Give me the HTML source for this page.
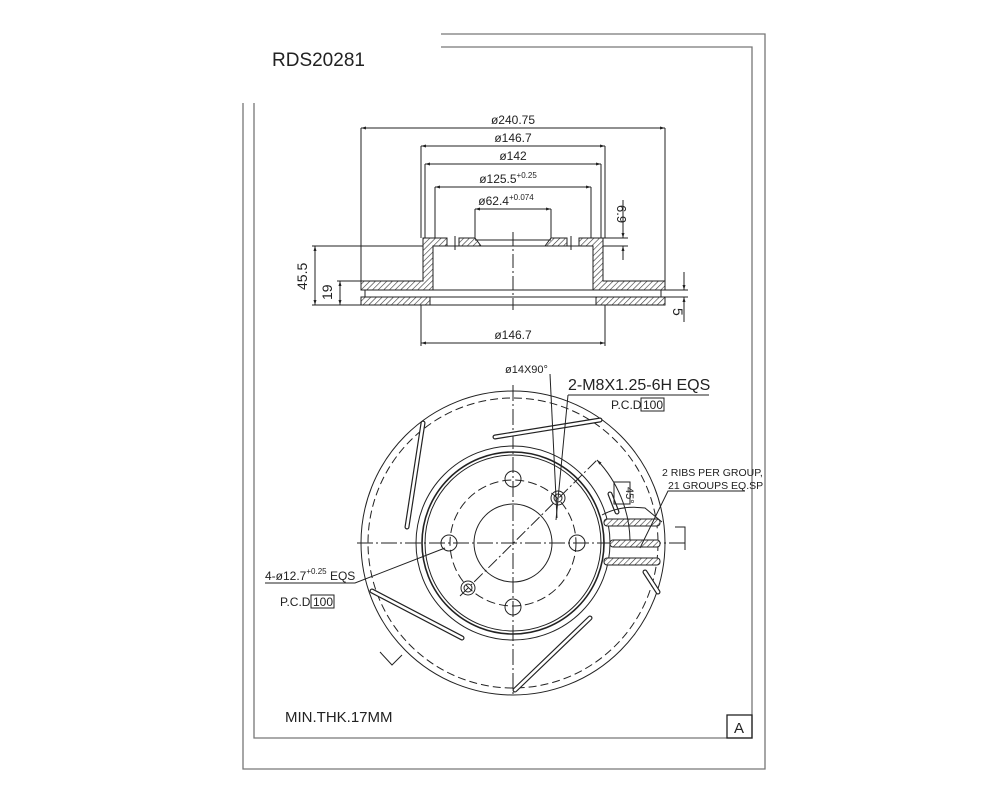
<!DOCTYPE html>
<html><head><meta charset="utf-8"><style>
html,body{margin:0;padding:0;background:#fff}
svg{display:block}
text{font-family:"Liberation Sans Narrow","Liberation Sans",sans-serif;fill:#222}
</style></head><body>
<svg width="1000" height="800" viewBox="0 0 1000 800" xmlns="http://www.w3.org/2000/svg">
<defs>
<pattern id="h" width="4" height="4" patternUnits="userSpaceOnUse" patternTransform="rotate(45)">
<rect width="4" height="4" fill="#fff"/><line x1="0" y1="0" x2="0" y2="4" stroke="#333" stroke-width="1.2"/></pattern>
<marker id="a" viewBox="0 0 10 10" refX="10" refY="5" markerWidth="7" markerHeight="5" orient="auto-start-reverse"><path d="M0,2 L10,5 L0,8z" fill="#222"/></marker>
</defs>
<text x="272" y="66" font-family="Liberation Sans" font-size="19" style="font-family:'Liberation Sans',sans-serif">RDS20281</text>
<g fill="none" stroke="#777" stroke-width="1.3">
<path d="M441,34 H765 V769 H243 V103"/>
<path d="M441,47 H752 V738 H254 V103"/>
</g>
<rect x="727" y="715" width="25" height="23" fill="none" stroke="#222" stroke-width="1.3"/>
<text x="734" y="733" font-size="15">A</text>
<text x="285" y="722" font-size="15">MIN.THK.17MM</text>

<!-- top section view -->
<g stroke="#222" stroke-width="1" fill="none">
<line x1="361" y1="128" x2="665" y2="128" marker-start="url(#a)" marker-end="url(#a)"/>
<line x1="421" y1="146" x2="605" y2="146" marker-start="url(#a)" marker-end="url(#a)"/>
<line x1="425" y1="164" x2="601" y2="164" marker-start="url(#a)" marker-end="url(#a)"/>
<line x1="435" y1="187" x2="591" y2="187" marker-start="url(#a)" marker-end="url(#a)"/>
<line x1="475" y1="209" x2="551" y2="209" marker-start="url(#a)" marker-end="url(#a)"/>
<line x1="421" y1="343" x2="605" y2="343" marker-start="url(#a)" marker-end="url(#a)"/>
<line x1="361" y1="128" x2="361" y2="281"/><line x1="665" y1="128" x2="665" y2="281"/>
<line x1="421" y1="146" x2="421" y2="238"/><line x1="605" y1="146" x2="605" y2="238"/>
<line x1="425" y1="164" x2="425" y2="238"/><line x1="601" y1="164" x2="601" y2="238"/>
<line x1="435" y1="187" x2="435" y2="238"/><line x1="591" y1="187" x2="591" y2="238"/>
<line x1="475" y1="209" x2="475" y2="238"/><line x1="551" y1="209" x2="551" y2="238"/>
<line x1="421" y1="305" x2="421" y2="346"/><line x1="605" y1="305" x2="605" y2="346"/>
<!-- left dims -->
<line x1="312" y1="246" x2="423" y2="246"/><line x1="312" y1="305" x2="361" y2="305"/><line x1="337" y1="281" x2="361" y2="281"/>
<line x1="315" y1="246" x2="315" y2="305" marker-start="url(#a)" marker-end="url(#a)"/>
<line x1="340" y1="281" x2="340" y2="305" marker-start="url(#a)" marker-end="url(#a)"/>
<!-- right dims -->
<line x1="603" y1="238" x2="628" y2="238"/><line x1="603" y1="246" x2="628" y2="246"/>
<line x1="623" y1="200" x2="623" y2="238" marker-end="url(#a)"/><line x1="623" y1="260" x2="623" y2="246" marker-end="url(#a)"/>
<line x1="665" y1="290" x2="688" y2="290"/><line x1="665" y1="297" x2="688" y2="297"/>
<line x1="684" y1="272" x2="684" y2="290" marker-end="url(#a)"/><line x1="684" y1="322" x2="684" y2="297" marker-end="url(#a)"/>
<line x1="513" y1="232" x2="513" y2="310" stroke-dasharray="14,3,2,3"/>
</g>
<g stroke="#222" stroke-width="1" fill="url(#h)">
<path d="M361,281 H423 V238 H447 V246 H433 V290 H361z"/>
<path d="M665,281 H603 V238 H579 V246 H593 V290 H665z"/>
<path d="M459,238 H475 L481,246 H459z"/>
<path d="M567,238 H551 L545,246 H567z"/>
<rect x="361" y="297" width="69" height="8"/>
<rect x="596" y="297" width="69" height="8"/>
</g>
<g stroke="#222" stroke-width="1" fill="none">
<line x1="433" y1="246" x2="593" y2="246"/><line x1="475" y1="240" x2="551" y2="240"/>
<line x1="433" y1="290" x2="593" y2="290"/><line x1="430" y1="297" x2="596" y2="297"/><line x1="430" y1="305" x2="596" y2="305"/>
<line x1="455" y1="236" x2="455" y2="250"/><line x1="571" y1="236" x2="571" y2="250"/>
<line x1="365" y1="290" x2="365" y2="297"/><line x1="661" y1="290" x2="661" y2="297"/>
</g>
<g font-size="12" text-anchor="middle">
<text x="513" y="124">ø240.75</text>
<text x="513" y="142">ø146.7</text>
<text x="513" y="160">ø142</text>
<text x="508" y="183">ø125.5<tspan font-size="8" dy="-5">+0.25</tspan></text>
<text x="506" y="205">ø62.4<tspan font-size="8" dy="-5">+0.074</tspan></text>
<text x="513" y="339">ø146.7</text>
</g>
<text font-size="14" transform="translate(307,290) rotate(-90)">45.5</text>
<text font-size="14" transform="translate(332,300) rotate(-90)">19</text>
<text font-size="13" transform="translate(617,205) rotate(90)">6.9</text>
<text font-size="14" transform="translate(673,308) rotate(90)">5</text>

<!-- front view -->
<g stroke="#222" stroke-width="1" fill="none">
<circle cx="513" cy="543" r="152"/>
<circle cx="513" cy="543" r="145" stroke-dasharray="8,4"/>
<circle cx="513" cy="543" r="97"/>
<circle cx="513" cy="543" r="91" stroke-width="1.6"/>
<circle cx="513" cy="543" r="88"/>
<circle cx="513" cy="543" r="63" stroke-dasharray="9,4"/>
<circle cx="513" cy="543" r="39"/>
<circle cx="449" cy="543" r="8"/><circle cx="577" cy="543" r="8"/>
<circle cx="513" cy="479" r="8"/><circle cx="513" cy="607" r="8"/>
<circle cx="558" cy="498" r="7"/><circle cx="558" cy="498" r="4"/>
<circle cx="468" cy="588" r="7"/><circle cx="468" cy="588" r="4"/>
<line x1="357" y1="543" x2="685" y2="543" stroke-dasharray="16,3,2,3"/>
<path d="M675,527 H685 V550"/>
<line x1="513" y1="385" x2="513" y2="697" stroke-dasharray="16,3,2,3"/>
<line x1="460" y1="596" x2="597" y2="460" stroke-dasharray="12,3,2,3"/>
<!-- slots -->
<g stroke-width="5" stroke-linecap="round"><path d="M407,527 L423,423"/><path d="M495,437 L600,420"/><path d="M372,591 L462,638"/><path d="M515,690 L590,618"/><path d="M610,494 L617,512"/><path d="M645,572 L658,592"/></g>
</g>
<g stroke="#fff" stroke-width="2.6" stroke-linecap="round" fill="none"><path d="M407,527 L423,423"/><path d="M495,437 L600,420"/><path d="M372,591 L462,638"/><path d="M515,690 L590,618"/><path d="M610,494 L617,512"/><path d="M645,572 L658,592"/></g>
<g stroke="#222" stroke-width="1" fill="url(#h)">
<rect x="604" y="519" width="56" height="7" rx="3"/>
<rect x="610" y="540" width="50" height="7" rx="3"/>
<rect x="604" y="558" width="56" height="7" rx="3"/>
</g>
<g stroke="#222" stroke-width="1" fill="none">
<path d="M602,515 Q620,505 645,508 L662,522"/>
<path d="M597,460 A120,120 0 0 1 630,540" marker-start="url(#a)"/>
<rect x="614" y="482" width="16" height="22"/>
<path d="M550,374 L557,518"/><path d="M568,395 H709"/><path d="M568,395 L556,520"/>
<path d="M745,491 H668 L640,548"/>
<path d="M265,583 H355 L445,548"/>
<path d="M380,652 L392,665 L402,655"/>
<rect x="641" y="398" width="23" height="13"/><rect x="311" y="595" width="23" height="13"/>
</g>
<text x="505" y="373" font-size="11">ø14X90°</text>
<text x="568" y="390" font-size="16">2-M8X1.25-6H EQS</text>
<text x="611" y="409" font-size="12">P.C.D</text><text x="643" y="409" font-size="12">100</text>
<text x="662" y="476" font-size="10.5">2 RIBS PER GROUP,</text>
<text x="668" y="489" font-size="10.5">21 GROUPS EQ.SP</text>
<text font-size="11" transform="translate(626,487) rotate(90)">45°</text>
<text x="265" y="580" font-size="12">4-ø12.7<tspan font-size="8" dy="-6">+0.25</tspan><tspan dy="6"> EQS</tspan></text>
<text x="280" y="606" font-size="12">P.C.D</text><text x="313" y="606" font-size="12">100</text>
</svg>
</body></html>
